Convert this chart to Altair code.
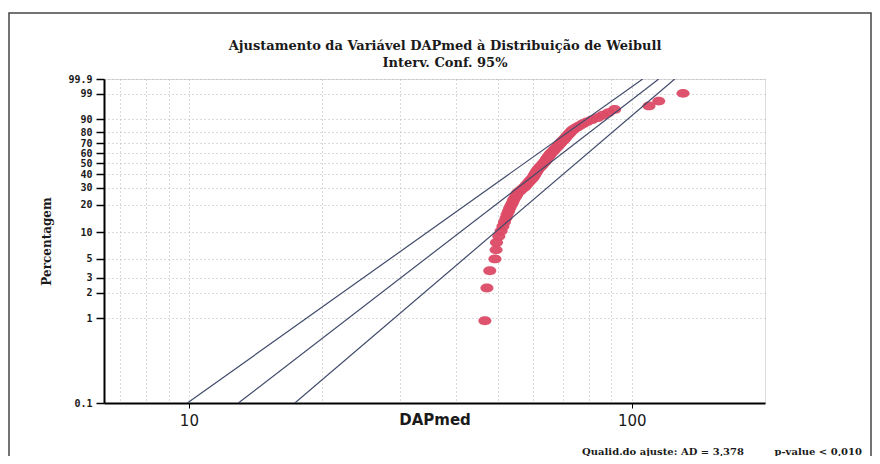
import math
import altair as alt
import pandas as pd

# ---- texts ----
title_lines = ["Ajustamento da Variável DAPmed à Distribuição de Weibull", "Interv. Conf. 95%"]
x_title = "DAPmed"
y_title = "Percentagem"
note_left = "Qualid.do ajuste: AD = 3,378"
note_right = "p-value < 0,010"

# ---- axes ----
pct_ticks = [0.1, 1, 2, 3, 5, 10, 20, 30, 40, 50, 60, 70, 80, 90, 99, 99.9]
x_grid_vals = [7, 8, 9, 10, 20, 30, 40, 50, 60, 70, 80, 90, 100]
x_label_vals = [10, 100]
x_domain = [6.43, 200]

# ---- data points (DAPmed, percent) ----
dap = [46.6, 47.1, 47.8, 49.1, 49.4, 49.5, 50.1, 50.7, 51.2, 51.6,
       52.0, 52.3, 52.7, 53.0, 53.4, 53.8, 54.1, 54.5, 54.9, 55.2,
       55.9, 56.6, 57.3, 57.8, 58.3, 58.8, 59.3, 59.8, 60.1, 60.4,
       60.7, 61.0, 61.3, 61.7, 62.1, 62.6, 63.0, 63.4, 63.8, 64.1,
       64.4, 64.7, 65.1, 65.4, 65.8, 66.3, 66.7, 67.1, 67.6, 68.0,
       68.4, 68.9, 69.3, 69.8, 70.3, 70.8, 71.2, 71.7, 72.2, 72.8,
       73.3, 74.1, 75.2, 76.3, 77.6, 79.2, 81.3, 83.7, 86.0, 88.6,
       91.5, 109.4, 115.1, 130.6]
pct = [0.94, 2.28, 3.63, 4.97, 6.32, 7.66, 9.01, 10.35, 11.69, 13.04,
       14.38, 15.73, 17.07, 18.41, 19.76, 21.10, 22.45, 23.79, 25.13, 26.48,
       27.82, 29.17, 30.51, 31.85, 33.20, 34.54, 35.89, 37.23, 38.58, 39.92,
       41.26, 42.61, 43.95, 45.30, 46.64, 47.98, 49.33, 50.67, 52.02, 53.36,
       54.70, 56.05, 57.39, 58.74, 60.08, 61.42, 62.77, 64.11, 65.46, 66.80,
       68.15, 69.49, 70.83, 72.18, 73.52, 74.87, 76.21, 77.55, 78.90, 80.24,
       81.59, 82.93, 84.27, 85.62, 86.96, 88.31, 89.65, 91.00, 92.34, 93.68,
       95.03, 96.37, 97.72, 99.06]

# ---- fitted line and confidence bounds (endpoints at 0.1 % and 99.9 %) ----
line_pct = [0.1, 99.9]
ci_low = [9.92, 105.9]
fit = [12.93, 115.1]
ci_high = [17.35, 125.1]


def weib(p):
    return math.log(-math.log(1 - p / 100.0))


pts = pd.DataFrame({"x": dap, "pct": pct})
pts["yt"] = [weib(p) for p in pct]

rows = []
for name, xs in [("low", ci_low), ("fit", fit), ("high", ci_high)]:
    for xv, pv in zip(xs, line_pct):
        rows.append({"series": name, "x": xv, "pct": pv, "yt": weib(pv)})
lines_df = pd.DataFrame(rows)

x_test = " || ".join(f"datum.value == {v}" for v in x_label_vals)

x_enc = alt.X(
    "x:Q",
    scale=alt.Scale(type="log", domain=x_domain, nice=False),
    axis=alt.Axis(
        values=x_grid_vals,
        labelExpr=f"({x_test}) ? format(datum.value, 'd') : ''",
        tickOpacity={"condition": {"test": x_test, "value": 1}, "value": 0},
        title=x_title,
        titleFont="DejaVu Sans",
        titleFontSize=15,
        titleFontWeight="bold",
        titleColor="#1a1a1a",
        titleBaseline="alphabetic",
        titleY=21,
        labelFont="DejaVu Sans",
        labelFontSize=15,
        labelColor="#1a1a1a",
        labelPadding=5,
        labelOverlap=False,
        labelFlush=False,
        tickSize=5,
        tickColor="#000",
        tickWidth=1,
        domainColor="#000",
        domainWidth=2,
        grid=True,
        gridColor="#b4b4b4",
        gridDash=[1, 3],
        gridWidth=1,
    ),
)

y_enc = alt.Y(
    "yt:Q",
    scale=alt.Scale(domain=[weib(pct_ticks[0]), weib(pct_ticks[-1])], nice=False, zero=False),
    axis=alt.Axis(
        values=[weib(p) for p in pct_ticks],
        labelExpr="format(100*(1-exp(-exp(datum.value))), '.3~r')",
        title=y_title,
        titleFont="DejaVu Serif",
        titleFontSize=12,
        titleFontWeight="bold",
        titleColor="#1a1a1a",
        titlePadding=14,
        labelFont="DejaVu Sans Mono",
        labelFontSize=10,
        labelFontWeight="bold",
        labelColor="#1a1a1a",
        labelPadding=4,
        labelOverlap=False,
        labelFlush=False,
        tickSize=8,
        tickColor="#000",
        tickWidth=1.5,
        domainColor="#000",
        domainWidth=2,
        grid=True,
        gridColor="#b4b4b4",
        gridDash=[1, 3],
        gridWidth=1,
    ),
)

lines = alt.Chart(lines_df).mark_line(color="#404a6a", strokeWidth=1.2, clip=True).encode(
    x=x_enc, y=y_enc, detail="series:N"
)

ellipse = "M-1,0A1,0.68,0,1,0,1,0A1,0.68,0,1,0,-1,0Z"
points = alt.Chart(pts).mark_point(
    shape=ellipse, filled=True, size=170, color="#dc4b66", opacity=0.95
).encode(x=x_enc, y=y_enc)

blank = alt.Data(values=[{}])
frame = alt.Chart(blank).mark_rect(fill=None, stroke="#444", strokeWidth=1.5, clip=False).encode(
    x=alt.value(-95), x2=alt.value(767), y=alt.value(-66), y2=alt.value(420)
)
text_style = dict(font="DejaVu Serif", fontWeight="bold", color="#1a1a1a")
title1 = alt.Chart(blank).mark_text(text=title_lines[0], fontSize=13, align="center", **text_style).encode(
    x=alt.value(341), y=alt.value(-33)
)
title2 = alt.Chart(blank).mark_text(text=title_lines[1], fontSize=13, align="center", **text_style).encode(
    x=alt.value(341), y=alt.value(-16)
)
note1 = alt.Chart(blank).mark_text(text=note_left, fontSize=10, align="right", **text_style).encode(
    x=alt.value(640), y=alt.value(373)
)
note2 = alt.Chart(blank).mark_text(text=note_right, fontSize=10, align="right", **text_style).encode(
    x=alt.value(758), y=alt.value(373)
)

chart = alt.layer(frame, points, lines, title1, title2, note1, note2).properties(
    width=661,
    height=324,
    autosize=alt.AutoSizeParams(type="none"),
    padding={"left": 96, "top": 71, "right": 107, "bottom": 53},
).configure_view(stroke="#000", strokeWidth=1.5).configure(background="white")

chart.save("out.html", embed_options={"renderer": "svg", "actions": False})
